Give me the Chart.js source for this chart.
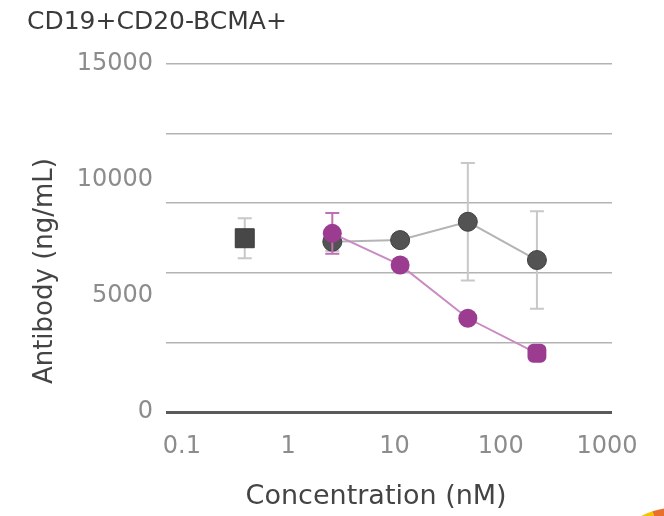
<!DOCTYPE html>
<html>
<head>
<meta charset="utf-8">
<script src="https://cdn.jsdelivr.net/npm/chart.js@4"></script>
<style>
  body { margin: 0; background: #fff; }
</style>
</head>
<body>
<canvas id="chart" width="664" height="516"></canvas>
<script>
const xTicks = [0.1, 1, 10, 100, 1000];
const yLabelStep = 5000;
const yGridStep = 3000;

// lone square point, not joined to the line
const singleX = [0.39];
const singleY = [7490];
const singleErr = [860];

const grayX = [2.6, 11.3, 49, 219];
const grayY = [7340, 7410, 8200, 6550];
const grayErr = [400, 200, 2530, 2100];

const magentaX = [2.6, 11.3, 49, 219];
const magentaY = [7700, 6340, 4040, 2530];
const magentaErr = [875, 150, 150, 150];

const FONT = 'DejaVu Sans';
const toPoints = (xs, ys) => xs.map((x, i) => ({ x: x, y: ys[i] }));

const errorBars = {
  id: 'errorBars',
  beforeDatasetDraw(chart, args) {
    const ds = chart.data.datasets[args.index];
    if (!ds.errors) return;
    const { ctx, scales: { x, y } } = chart;
    ctx.save();
    ctx.strokeStyle = ds.errorColor;
    ctx.lineWidth = 2;
    ds.data.forEach((p, i) => {
      const e = ds.errors[i];
      if (!e) return;
      const px = x.getPixelForValue(p.x);
      const top = y.getPixelForValue(p.y + e);
      const bot = y.getPixelForValue(p.y - e);
      ctx.beginPath();
      ctx.moveTo(px, top); ctx.lineTo(px, bot);
      ctx.moveTo(px - 7, top); ctx.lineTo(px + 7, top);
      ctx.moveTo(px - 7, bot); ctx.lineTo(px + 7, bot);
      ctx.stroke();
    });
    ctx.restore();
  }
};

// bit of a logo cut off in the bottom right corner
const cornerMark = {
  id: 'cornerMark',
  afterDraw(chart) {
    const ctx = chart.ctx;
    const cx = 680, cy = 596, r = 89;
    const parts = [['#f5c400', 240, 252], ['#e8702a', 252, 262], ['#d8472b', 262, 280]];
    parts.forEach(([c, a0, a1]) => {
      ctx.beginPath();
      ctx.moveTo(cx, cy);
      ctx.arc(cx, cy, r, a0 * Math.PI / 180, a1 * Math.PI / 180);
      ctx.closePath();
      ctx.fillStyle = c;
      ctx.fill();
    });
  }
};

new Chart(document.getElementById('chart'), {
  type: 'scatter',
  data: {
    datasets: [
      {
        order: 3,
        data: toPoints(singleX, singleY),
        errors: singleErr,
        errorColor: '#c8c8c8',
        showLine: false,
        pointStyle: 'rect',
        pointRadius: 13.4,
        pointBackgroundColor: '#474747',
        pointBorderColor: '#3a3a3a',
        pointBorderWidth: 1
      },
      {
        order: 2,
        data: toPoints(grayX, grayY),
        errors: grayErr,
        errorColor: '#c8c8c8',
        showLine: true,
        borderColor: '#b4b4b4',
        borderWidth: 2,
        pointRadius: 9.5,
        pointBackgroundColor: '#535353',
        pointBorderColor: '#404040',
        pointBorderWidth: 1
      },
      {
        order: 1,
        data: toPoints(magentaX, magentaY),
        errors: magentaErr,
        errorColor: '#bf6fb4',
        showLine: true,
        borderColor: '#c98bc1',
        borderWidth: 2,
        pointRadius: [9.5, 9.5, 9.5, 11],
        pointStyle: ['circle', 'circle', 'circle', 'rectRounded'],
        pointBackgroundColor: '#9b3c91',
        pointBorderColor: '#9b3c91',
        pointBorderWidth: 0
      }
    ]
  },
  options: {
    responsive: false,
    animation: false,
    events: [],
    layout: { padding: { left: 27, right: 52, top: 7, bottom: 3 } },
    plugins: {
      legend: { display: false },
      tooltip: { enabled: false },
      title: {
        display: true,
        text: 'CD19+CD20-BCMA+',
        align: 'start',
        color: '#3a3a3a',
        font: { family: FONT, size: 25, weight: 'normal' },
        padding: { top: 0, bottom: 27 }
      }
    },
    scales: {
      x: {
        type: 'logarithmic',
        min: 0.0708,
        max: 1114,
        afterBuildTicks: s => { s.ticks = xTicks.map(v => ({ value: v })); },
        afterFit: s => { s.height = 101; },
        ticks: {
          callback: v => String(v),
          autoSkip: false,
          maxRotation: 0,
          padding: 20,
          color: '#8c8c8c',
          font: { family: FONT, size: 24 }
        },
        grid: { display: false, drawTicks: false },
        border: { display: false },
        title: {
          display: true,
          // trailing spaces nudge the centred title left like the original
          text: 'Concentration (nM)   ',
          color: '#444',
          font: { family: FONT, size: 27 },
          padding: 0
        }
      },
      y: {
        min: 0,
        max: 15000,
        afterFit: s => { s.width = 139; },
        ticks: {
          stepSize: 1000,
          autoSkip: false,
          callback: v => (v % yLabelStep === 0 ? String(v) : ''),
          padding: 13,
          color: '#8c8c8c',
          font: { family: FONT, size: 24 }
        },
        grid: {
          drawTicks: false,
          color: c => c.tick.value === 0 ? '#5a5a5a' : (c.tick.value % yGridStep === 0 ? '#b3b3b3' : 'rgba(0,0,0,0)'),
          lineWidth: c => c.tick.value === 0 ? 3 : 1.5
        },
        border: { display: false },
        title: {
          display: true,
          // trailing spaces push the rotated title down like the original
          text: 'Antibody (ng/mL)' + ' '.repeat(8),
          color: '#444',
          font: { family: FONT, size: 26 },
          padding: { top: 3, bottom: 0 }
        }
      }
    }
  },
  plugins: [errorBars, cornerMark]
});
</script>
</body>
</html>
